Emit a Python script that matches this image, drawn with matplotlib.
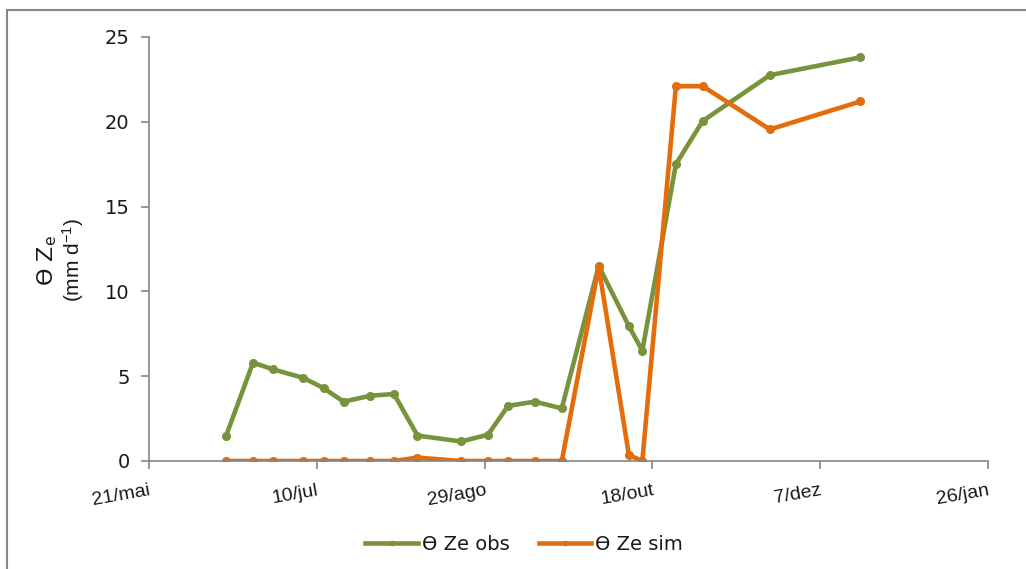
import matplotlib
matplotlib.use("Agg")
import matplotlib.pyplot as plt
from matplotlib.lines import Line2D
import pandas as pd

dates = ["2011-06-13", "2011-06-21", "2011-06-27", "2011-07-06", "2011-07-12",
         "2011-07-18", "2011-07-26", "2011-08-02", "2011-08-09", "2011-08-22",
         "2011-08-30", "2011-09-05", "2011-09-13", "2011-09-21", "2011-10-02",
         "2011-10-11", "2011-10-15", "2011-10-25", "2011-11-02", "2011-11-22",
         "2011-12-19"]
ze_obs = [1.5, 5.8, 5.4, 4.9, 4.3, 3.5, 3.85, 3.95, 1.5, 1.15, 1.55, 3.25,
          3.5, 3.1, 11.5, 7.95, 6.5, 17.5, 20.05, 22.75, 23.8]
ze_sim = [0, 0, 0, 0, 0, 0, 0, 0, 0.2, 0, 0, 0, 0, 0, 11.45, 0.35, 0,
          22.1, 22.1, 19.55, 21.2]
tick_dates = ["2011-05-21", "2011-07-10", "2011-08-29", "2011-10-18",
              "2011-12-07", "2012-01-26"]
tick_labels = ["21/mai", "10/jul", "29/ago", "18/out", "7/dez", "26/jan"]
y_ticks = [0, 5, 10, 15, 20, 25]

green = "#77933C"
orange = "#E46C0A"
gray = "#868686"

x = pd.to_datetime(dates)
xt = pd.to_datetime(tick_dates)

fig = plt.figure(figsize=(10.26, 5.69), dpi=100)
ax = fig.add_axes([149/1026, 1-461/569, (988-149)/1026, (461-37)/569])

ax.plot(x, ze_obs, color=green, lw=3.3, marker="o", ms=5.5, label="ϴ Ze obs",
        solid_joinstyle="round")
ax.plot(x, ze_sim, color=orange, lw=3.3, marker="o", ms=5.5, label="ϴ Ze sim",
        solid_joinstyle="round")

ax.set_xlim(xt[0], xt[-1])
ax.set_ylim(0, 25)
ax.set_xticks(xt)
ax.set_xticklabels(tick_labels, rotation=10, ha="right", rotation_mode="anchor",
                   fontsize=14, family="Liberation Sans", color="#1a1a1a")
ax.set_yticks(y_ticks)
ax.set_yticklabels([str(v) for v in y_ticks], fontsize=14, family="DejaVu Sans",
                   color="#1a1a1a")

for s in ["top", "right"]:
    ax.spines[s].set_visible(False)
for s in ["left", "bottom"]:
    ax.spines[s].set_color(gray)
    ax.spines[s].set_linewidth(1.2)
ax.tick_params(axis="both", direction="out", length=6, color=gray, width=1.2)
ax.tick_params(axis="y", pad=8)
ax.tick_params(axis="x", pad=9)

fig.text(47/1026, 1-261/569, "ϴ Z$\\mathregular{_e}$",
         rotation=90, ha="center", va="center", fontsize=16,
         family="DejaVu Sans", color="#1a1a1a")
fig.text(73/1026, 1-260/569, "(mm d$\\mathregular{^{-1}}$)",
         rotation=90, ha="center", va="center", fontsize=15,
         family="Liberation Sans", color="#1a1a1a")

handles = [Line2D([0], [0], color=green, lw=3.3, marker="o", ms=3),
           Line2D([0], [0], color=orange, lw=3.3, marker="o", ms=3)]
fig.legend(handles, ["ϴ Ze obs", "ϴ Ze sim"], loc="center",
           bbox_to_anchor=(524/1026, 1-544/569), ncol=2, frameon=False,
           prop={"family": "DejaVu Sans", "size": 14},
           handlelength=2.7, handletextpad=0.2, columnspacing=1.5,
           labelcolor="#1a1a1a")

fig.add_artist(Line2D([7/1026, 7/1026], [0, 1-10/569], color=gray, lw=1.5,
                      transform=fig.transFigure))
fig.add_artist(Line2D([7/1026, 1], [1-10/569, 1-10/569], color=gray, lw=1.5,
                      transform=fig.transFigure))

fig.savefig("out.png", dpi=100)
